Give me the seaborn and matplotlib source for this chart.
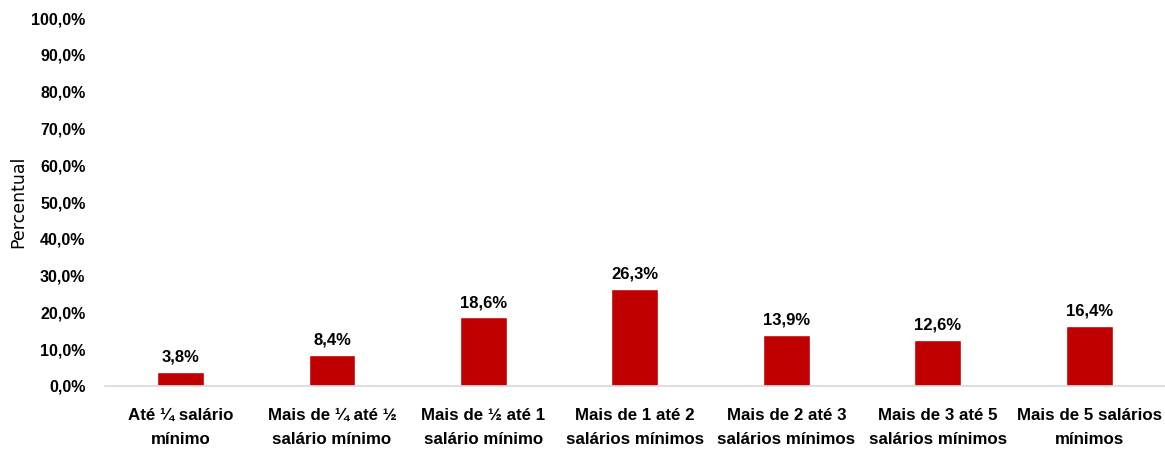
import matplotlib
matplotlib.use("Agg")
import matplotlib.pyplot as plt
import numpy as np
import pandas as pd
import seaborn as sns

categorias = [
    "Até ¼ salário\nmínimo",
    "Mais de ¼ até ½\nsalário mínimo",
    "Mais de ½ até 1\nsalário mínimo",
    "Mais de 1 até 2\nsalários mínimos",
    "Mais de 2 até 3\nsalários mínimos",
    "Mais de 3 até 5\nsalários mínimos",
    "Mais de 5 salários\nmínimos",
]
percentual = [3.8, 8.4, 18.6, 26.3, 13.9, 12.6, 16.4]
yticks = [0, 10, 20, 30, 40, 50, 60, 70, 80, 90, 100]

df = pd.DataFrame({"faixa": categorias, "pct": percentual})

sns.set_theme(style="white")
plt.rcParams["font.family"] = ["Liberation Sans", "DejaVu Sans"]

fig = plt.figure(figsize=(11.65, 4.55), dpi=100)
ax = fig.add_axes([0.09, 0.152, 0.91, 0.808])

sns.barplot(data=df, x="faixa", y="pct", color="#C00000", width=0.31,
            saturation=1, ax=ax)

for i, v in enumerate(percentual):
    ax.text(i, v + 2.0, f"{v:.1f}%".replace(".", ","), ha="center", va="bottom",
            fontsize=12, fontweight="bold", color="black")

ax.set_ylim(0, 100)
ax.set_xlim(-0.5, len(categorias) - 0.5)
ax.set_yticks(yticks)
ax.set_yticklabels([f"{t:.1f}%".replace(".", ",") for t in yticks],
                   fontsize=11.5, fontweight="bold", color="black")
ax.tick_params(axis="x", labelsize=12.2, pad=16, length=0, colors="black")
ax.tick_params(axis="y", length=0, pad=14)
for lab in ax.get_xticklabels():
    lab.set_fontweight("bold")
    lab.set_linespacing(1.75)

ax.set_xlabel("")
ax.set_ylabel("Percentual", fontsize=12.5, family=["DejaVu Sans"],
              color="black", labelpad=3)

for s in ["top", "right", "left"]:
    ax.spines[s].set_visible(False)
ax.spines["bottom"].set_color("#D9D9D9")
ax.spines["bottom"].set_linewidth(1.2)

fig.savefig("out.png", dpi=100)
